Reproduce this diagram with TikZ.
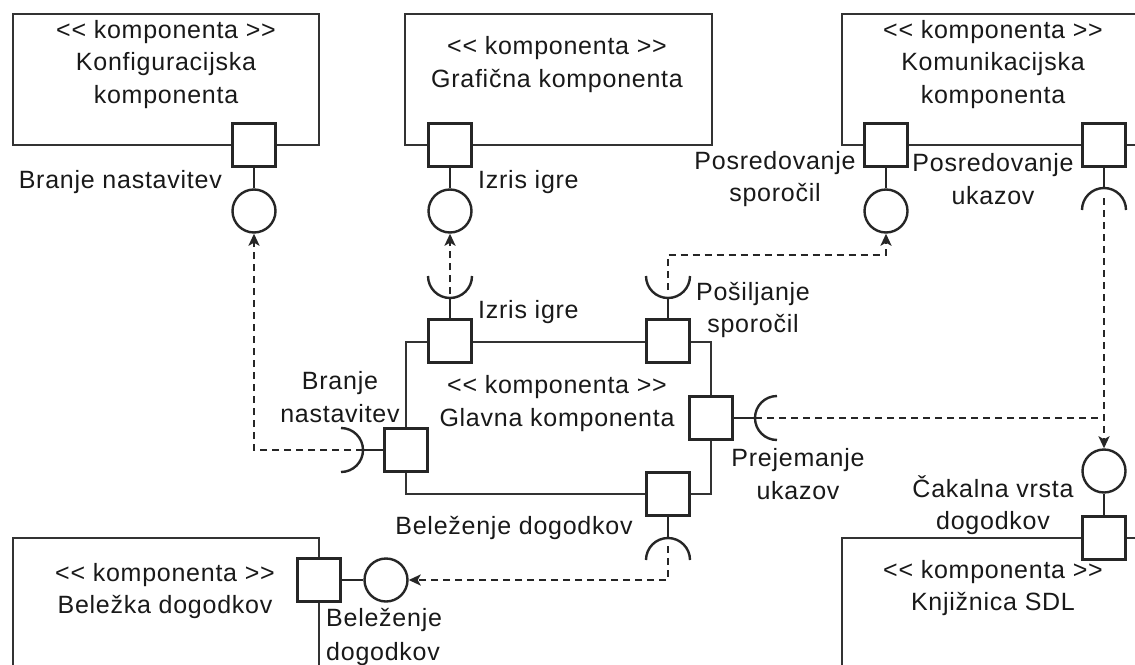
\documentclass[tikz,border=0pt]{standalone}
\usepackage{fontspec}
\setmainfont[LetterSpace=3]{Liberation Sans}
\usetikzlibrary{arrows.meta,calc}
\newcommand{\stereo}{<{}< komponenta >{}>}
\begin{document}
\begin{tikzpicture}[x=1pt,y=-1pt,
  every node/.style={font=\fontsize{25}{32.5}\selectfont, text=black!90},
  comp/.style={draw=black!80, line width=2.4pt, rectangle, inner sep=0pt},
  port/.style={draw=black!85, line width=2.4pt, fill=white, minimum size=43pt, inner sep=0pt},
  prov/.style={draw=black!85, line width=2.4pt, fill=white, circle, minimum size=43pt, inner sep=0pt},
  lbl/.style={align=center, inner sep=0pt},
  wire/.style={draw=black!85, line width=2.4pt},
  dep/.style={draw=black!85, line width=2.4pt, dash pattern=on 7pt off 5pt},
  deparrow/.style={dep, -{Stealth[length=12pt,width=11pt,inset=3pt]}},
]
\useasboundingbox (0,0) rectangle (1135,664);
\fill[white] (0,0) rectangle (1135,664);

% component boxes
\node[comp, minimum width=306pt, minimum height=131pt] (konf) at (166,79.5) {};
\node[comp, minimum width=307pt, minimum height=131pt] (graf) at (558.5,79.5) {};
\node[comp, minimum width=308pt, minimum height=131pt] (kom) at (996,79.5) {};
\node[comp, minimum width=305pt, minimum height=152pt] (glav) at (558.5,418) {};
\node[comp, minimum width=306pt, minimum height=142pt] (bel) at (166,609) {};
\node[comp, minimum width=308pt, minimum height=142pt] (sdl) at (996,609) {};

% box texts
\node[lbl] (tkonf) at (166,64.5) {\stereo\\Konfiguracijska\\komponenta};
\node[lbl] (tgraf) at (557,64.5) {\stereo\\Grafična komponenta};
\node[lbl] (tkom) at (993,64.5) {\stereo\\Komunikacijska\\komponenta};
\node[lbl] (tglav) at (557,403.5) {\stereo\\Glavna komponenta};
\node[lbl] (tbel) at (165,591) {\stereo\\Beležka dogodkov};
\node[lbl] (tsdl) at (993,588) {\stereo\\Knjižnica SDL};

% ports
\node[port] (pkonf) at (254,145) {};
\node[port] (pgraf) at (450,145) {};
\node[port] (pkoms) at (886,145) {};
\node[port] (pkomu) at (1104,145) {};
\node[port] (gizr) at (450,341) {};
\node[port] (gpos) at (668,341) {};
\node[port] (gbra) at (406,450) {};
\node[port] (gpre) at (711,418) {};
\node[port] (gbel) at (668,494) {};
\node[port] (pbel) at (319,580) {};
\node[port] (psdl) at (1104,538) {};

% provided interfaces (lollipops)
\node[prov] (ckonf) at (254,211) {};
\node[prov] (cgraf) at (450,211) {};
\node[prov] (ckom) at (886,211) {};
\node[prov] (csdl) at (1104,471) {};
\node[prov] (cbel) at (386,580) {};
\draw[wire] (pkonf.south) -- (ckonf.north);
\draw[wire] (pgraf.south) -- (cgraf.north);
\draw[wire] (pkoms.south) -- (ckom.north);
\draw[wire] (psdl.north) -- (csdl.south);
\draw[wire] (pbel.east) -- (cbel.west);

% required interfaces (sockets)
\coordinate (skomu) at (1104,210);
\coordinate (sizr) at (450,276);
\coordinate (spos) at (668,276);
\coordinate (sbra) at (341,450);
\coordinate (spre) at (777,418);
\coordinate (sbel) at (668,560);
\coordinate (skomutop) at (1104,188);
\coordinate (sizrbot) at (450,298);
\coordinate (sposbot) at (668,298);
\coordinate (sbratip) at (363,450);
\coordinate (spretip) at (755,418);
\coordinate (sbeltop) at (668,538);

\draw[wire] (pkomu.south) -- (skomutop);
\draw[wire] ($(skomu)+(-22,0)$) arc[start angle=180, end angle=360, radius=22];
\draw[wire] (gizr.north) -- (sizrbot);
\draw[wire] ($(sizr)+(-22,0)$) arc[start angle=180, end angle=0, radius=22];
\draw[wire] (gpos.north) -- (sposbot);
\draw[wire] ($(spos)+(-22,0)$) arc[start angle=180, end angle=0, radius=22];
\draw[wire] (gbra.west) -- (sbratip);
\draw[wire] ($(sbra)+(0,-22)$) arc[start angle=-90, end angle=90, radius=22];
\draw[wire] (gpre.east) -- (spretip);
\draw[wire] ($(spre)+(0,22)$) arc[start angle=90, end angle=270, radius=22];
\draw[wire] (gbel.south) -- (sbeltop);
\draw[wire] ($(sbel)+(-22,0)$) arc[start angle=180, end angle=360, radius=22];

% dependencies
\coordinate (sizrd) at (450,294);
\coordinate (sposd) at (668,290);
\coordinate (skomud) at (1104,198);
\coordinate (sbeld) at (668,546);
\coordinate (join) at (1104,418);
\draw[deparrow] (sizrd) -- (cgraf.south);
\draw[deparrow] (sposd) |- ($(ckom.south)+(0,21)$) -- (ckom.south);
\draw[deparrow] (sbratip) -| (ckonf.south);
\draw[deparrow] (skomud) -- (csdl.north);
\draw[dep] (spretip) -- (join);
\draw[deparrow] (sbeld) |- (cbel.east);

% labels
\node[lbl, anchor=east] (lbra1) at (222,182) {Branje nastavitev};
\node[lbl, anchor=west] (lizr1) at (478,182) {Izris igre};
\node[lbl] (lposs) at (775,179) {Posredovanje\\sporočil};
\node[lbl] (lposu) at (993,179) {Posredovanje\\ukazov};
\node[lbl, anchor=west] (lizr2) at (478,312) {Izris igre};
\node[lbl] (lpos) at (753,310) {Pošiljanje\\sporočil};
\node[lbl] (lbra2) at (340,397) {Branje\\nastavitev};
\node[lbl] (lpre) at (798,474) {Prejemanje\\ukazov};
\node[lbl] (lbel1) at (514,528) {Beleženje dogodkov};
\node[lbl, align=left, anchor=west, font=\fontsize{25}{34}\selectfont] (lbel2) at (326,637) {Beleženje\\dogodkov};
\node[lbl] (lcak) at (993,505) {Čakalna vrsta\\dogodkov};
\end{tikzpicture}
\end{document}
